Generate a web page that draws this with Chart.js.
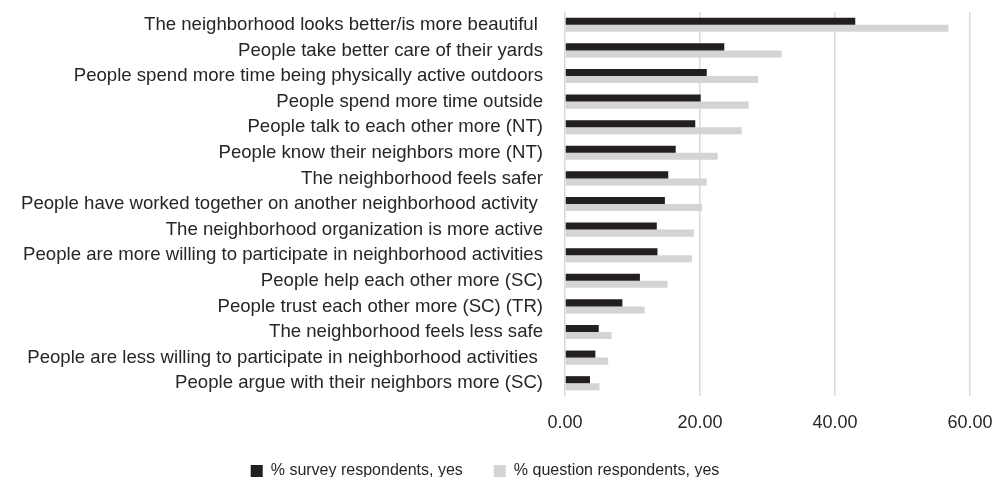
<!DOCTYPE html>
<html>
<head>
<meta charset="utf-8">
<script src="https://cdn.jsdelivr.net/npm/chart.js@4"></script>
<style>
  html, body { margin:0; padding:0; background:#fff; overflow:hidden; }
  #wrap { width:994px; height:477px; position:relative; }
</style>
</head>
<body>
<div id="wrap"><canvas id="chart"></canvas></div>
<script>
const categories = [
  'The neighborhood looks better/is more beautiful ',
  'People take better care of their yards',
  'People spend more time being physically active outdoors',
  'People spend more time outside',
  'People talk to each other more (NT)',
  'People know their neighbors more (NT)',
  'The neighborhood feels safer',
  'People have worked together on another neighborhood activity ',
  'The neighborhood organization is more active',
  'People are more willing to participate in neighborhood activities',
  'People help each other more (SC)',
  'People trust each other more (SC) (TR)',
  'The neighborhood feels less safe',
  'People are less willing to participate in neighborhood activities ',
  'People argue with their neighbors more (SC)'
];
const surveyYes   = [43.0, 23.6, 21.0, 20.1, 19.3, 16.4, 15.3, 14.8, 13.6, 13.7, 11.1, 8.5, 5.0, 4.5, 3.7];
const questionYes = [56.8, 32.1, 28.6, 27.2, 26.2, 22.6, 21.0, 20.3, 19.1, 18.8, 15.2, 11.8, 6.9, 6.4, 5.1];
const seriesNames = ['% survey respondents, yes', '% question respondents, yes'];
const xTicks = [0, 20, 40, 60];

const FONT = 'Liberation Sans, Arial, sans-serif';
const TEXT = '#262626';

// ---------------------------
// Chart
// ---------------------------
const ctx = document.getElementById('chart').getContext('2d');
new Chart(ctx, {
  type:'bar',
  data:{
    labels:categories,
    datasets:[
      { label:seriesNames[0], data:surveyYes, backgroundColor:'#231f20', categoryPercentage:0.55, barPercentage:1.0 },
      { label:seriesNames[1], data:questionYes, backgroundColor:'#d4d4d4', categoryPercentage:0.55, barPercentage:1.0 }
    ]
  },
  options:{
    indexAxis:'y',
    responsive:true,
    maintainAspectRatio:false,
    animation:false,
    layout:{ padding:{ top:12, left:0, right:24, bottom:-12 } },
    plugins:{
      tooltip:{ enabled:false },
      legend:{
        position:'bottom',
        labels:{ color:TEXT, font:{ family:FONT, size:16 }, boxWidth:12, boxHeight:12, padding:31 }
      }
    },
    scales:{
      x:{
        min:0, max:60,
        afterBuildTicks:(s)=>{ s.ticks = xTicks.map(v=>({ value:v })); },
        ticks:{ color:TEXT, font:{ family:FONT, size:18 }, padding:16, callback:(v)=>Number(v).toFixed(2) },
        grid:{ color:'#d9d9d9', lineWidth:1.5, drawTicks:false },
        border:{ display:false },
        afterFit:(s)=>{ s.height = 36; s.paddingLeft = 0; s.paddingRight = 0; }
      },
      y:{
        ticks:{ color:TEXT, font:{ family:FONT, size:18.6 }, padding:22, autoSkip:false },
        grid:{ display:false, drawTicks:false },
        border:{ display:false },
        afterFit:(s)=>{ s.width = 565; s.paddingTop = 0; s.paddingBottom = 0; }
      }
    }
  }
});
</script>
</body>
</html>
